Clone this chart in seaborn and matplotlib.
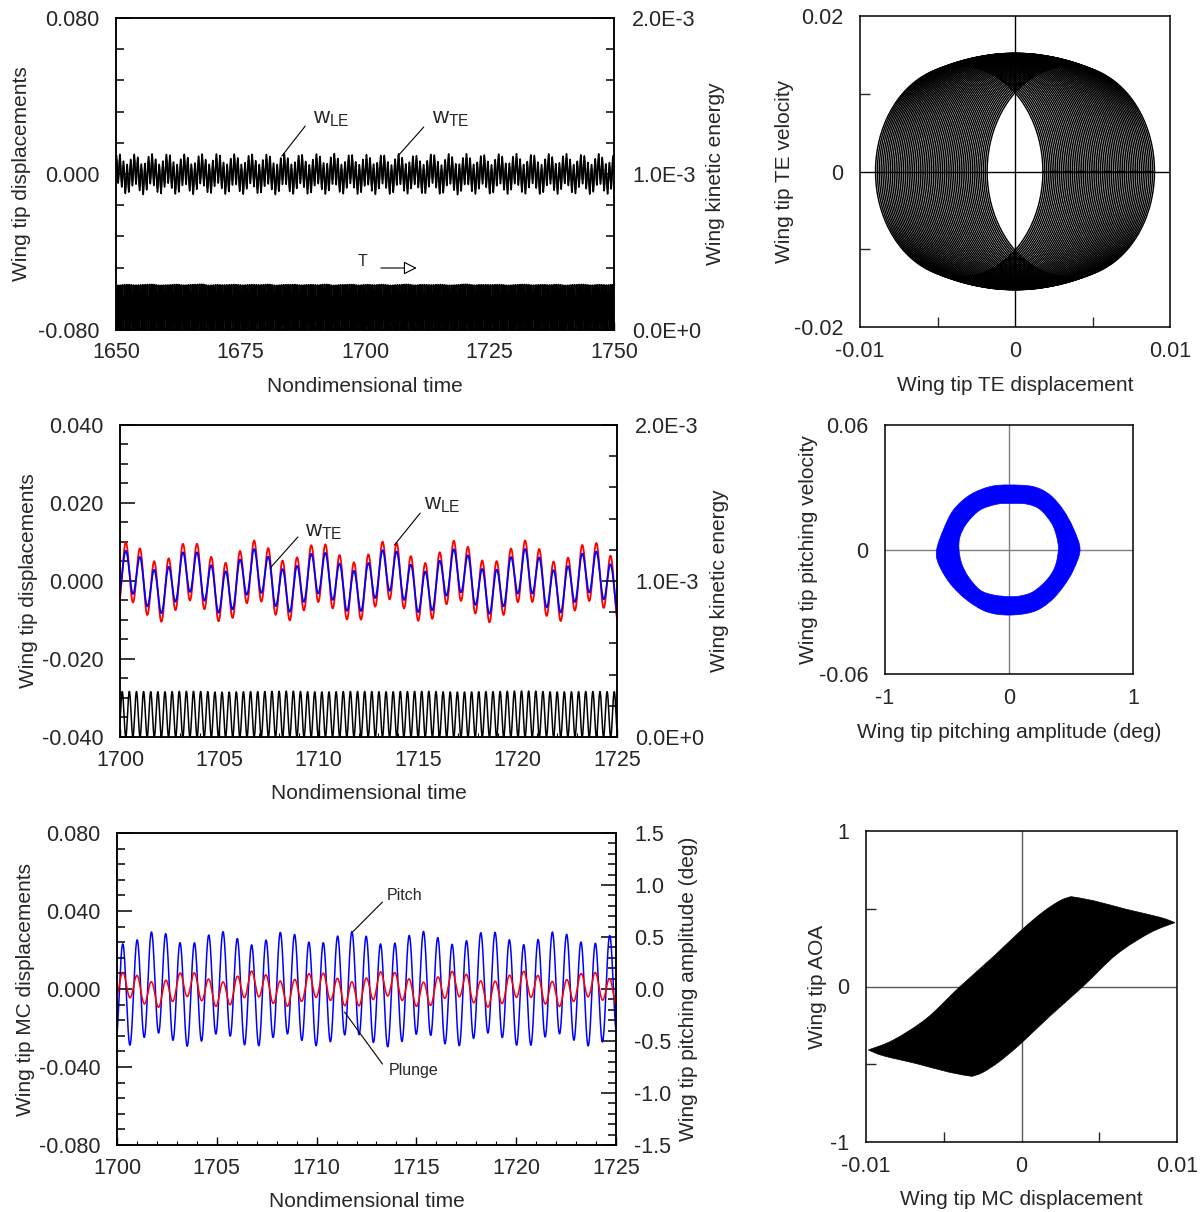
import numpy as np
import pandas as pd
import seaborn as sns
import matplotlib
matplotlib.use("Agg")
import matplotlib.pyplot as plt
from matplotlib.path import Path
from matplotlib.patches import PathPatch
from matplotlib.ticker import MultipleLocator

sns.set_style("white")
plt.rcParams["font.family"] = ["Liberation Sans", "DejaVu Sans"]
plt.rcParams["mathtext.fontset"] = "custom"
plt.rcParams["mathtext.rm"] = "Liberation Sans"
plt.rcParams["mathtext.it"] = "Liberation Sans:italic"
plt.rcParams["axes.unicode_minus"] = False

RED, BLUE, BLACK = "#ff0000", "#0000ff", "#000000"

# ---------------- wing-tip time histories ----------------
FAST_PERIOD = 0.7174      # period of the flutter oscillation
FAST_CREST_T = 1700.29    # time of one displacement crest

# extrema of the slow drift of the tip displacement (time, value)
w_slow_t = [1647.1, 1648.8, 1650.5, 1652.1, 1653.8, 1655.4, 1657.1, 1658.8,
            1660.4, 1662.1, 1663.8, 1665.4, 1667.1, 1668.8, 1670.4, 1672.1,
            1673.8, 1675.4, 1677.1, 1678.7, 1680.4, 1682.1, 1683.8, 1685.4,
            1687.1, 1688.7, 1690.4, 1692.1, 1693.8, 1695.4, 1697.1, 1698.7,
            1700.4, 1702.0, 1703.5, 1705.2, 1706.8, 1708.4, 1710.0, 1711.8,
            1713.5, 1715.3, 1716.9, 1718.6, 1720.4, 1722.0, 1723.7, 1725.3,
            1727.0, 1728.6, 1730.3, 1732.0, 1733.6, 1735.3, 1737.0, 1738.6,
            1740.3, 1742.0, 1743.6, 1745.3, 1747.0, 1748.6, 1750.3, 1752.0]
w_slow_v = [0.0027, -0.0028, 0.0029, -0.0027, 0.0026, -0.0030, 0.0028, -0.0027,
            0.0029, -0.0028, 0.0026, -0.0029, 0.0028, -0.0026, 0.0030, -0.0028,
            0.0027, -0.0029, 0.0028, -0.0027, 0.0026, -0.0030, 0.0029, -0.0028,
            0.0027, -0.0029, 0.0028, -0.0027, 0.0029, -0.0028, 0.0027, -0.0029,
            0.0024, -0.0029, 0.0026, -0.0030, 0.0028, -0.0026, 0.0022, -0.0028,
            0.0029, -0.0030, 0.0028, -0.0030, 0.0028, -0.0028, 0.0025, -0.0029,
            0.0028, -0.0027, 0.0029, -0.0028, 0.0027, -0.0029, 0.0028, -0.0027,
            0.0029, -0.0028, 0.0026, -0.0029, 0.0028, -0.0027, 0.0028, -0.0028]
w_te_amp = 0.0076     # oscillation amplitude, trailing edge
w_le_amp = 0.0054     # oscillation amplitude, leading edge
# crest height of the wing kinetic energy at the same knots
ke_peak = [2.90e-4, 2.92e-4, 2.88e-4, 2.93e-4, 2.89e-4, 2.91e-4, 2.94e-4, 2.88e-4,
           2.90e-4, 2.93e-4, 2.89e-4, 2.92e-4, 2.95e-4, 2.88e-4, 2.91e-4, 2.90e-4,
           2.93e-4, 2.89e-4, 2.92e-4, 2.90e-4, 2.94e-4, 2.88e-4, 2.91e-4, 2.93e-4,
           2.89e-4, 2.92e-4, 2.90e-4, 2.94e-4, 2.88e-4, 2.91e-4, 2.93e-4, 2.89e-4,
           2.92e-4, 2.90e-4, 2.93e-4, 2.88e-4, 2.91e-4, 2.94e-4, 2.89e-4, 2.92e-4,
           2.90e-4, 2.93e-4, 2.88e-4, 2.91e-4, 2.95e-4, 2.89e-4, 2.92e-4, 2.90e-4,
           2.93e-4, 2.88e-4, 2.91e-4, 2.94e-4, 2.89e-4, 2.92e-4, 2.90e-4, 2.93e-4,
           2.88e-4, 2.91e-4, 2.94e-4, 2.89e-4, 2.92e-4, 2.90e-4, 2.93e-4, 2.90e-4]

# mid-chord plunge (left axis) and pitch in degrees (right axis)
mc_slow_t = [1697.1, 1698.7, 1700.4, 1702.0, 1703.5, 1705.2, 1706.8, 1708.4,
             1710.0, 1711.8, 1713.5, 1715.3, 1716.9, 1718.6, 1720.4, 1722.0,
             1723.7, 1725.3, 1727.0]
plunge_slow_v = [0.0025, -0.0027, 0.0022, -0.0030, 0.0025, -0.0028, 0.0028, -0.0025,
                 0.0021, -0.0027, 0.0028, -0.0029, 0.0027, -0.0029, 0.0027, -0.0027,
                 0.0024, -0.0028, 0.0027]
pitch_slow_v = [-0.060, 0.062, -0.057, 0.067, -0.060, 0.063, -0.066, 0.060,
                -0.055, 0.062, -0.066, 0.064, -0.062, 0.066, -0.064, 0.062,
                -0.058, 0.064, -0.062]
plunge_amp = 0.0064
pitch_amp = 0.49

# TE phase portrait: centre and velocity half-height of each loop
te_loop_centre = [-0.00360, -0.00348, -0.00336, -0.00324, -0.00312, -0.00300, -0.00288,
                  -0.00276, -0.00264, -0.00252, -0.00240, -0.00228, -0.00216, -0.00204,
                  -0.00192, -0.00180, -0.00168, -0.00156, -0.00144, -0.00132, -0.00120,
                  -0.00108, -0.00096, -0.00084, -0.00072, -0.00060, -0.00048, -0.00036,
                  -0.00024, -0.00012, 0.00000, 0.00012, 0.00024, 0.00036, 0.00048,
                  0.00060, 0.00072, 0.00084, 0.00096, 0.00108, 0.00120, 0.00132,
                  0.00144, 0.00156, 0.00168, 0.00180, 0.00192, 0.00204, 0.00216,
                  0.00228, 0.00240, 0.00252, 0.00264, 0.00276, 0.00288, 0.00300,
                  0.00312, 0.00324, 0.00336, 0.00348, 0.00360]
te_loop_height = [0.01360, 0.01371, 0.01381, 0.01390, 0.01400, 0.01409, 0.01418,
                  0.01426, 0.01434, 0.01442, 0.01449, 0.01456, 0.01462, 0.01469,
                  0.01475, 0.01480, 0.01485, 0.01490, 0.01494, 0.01498, 0.01502,
                  0.01506, 0.01509, 0.01511, 0.01514, 0.01516, 0.01517, 0.01518,
                  0.01519, 0.01520, 0.01520, 0.01520, 0.01519, 0.01518, 0.01517,
                  0.01516, 0.01514, 0.01511, 0.01509, 0.01506, 0.01502, 0.01498,
                  0.01494, 0.01490, 0.01485, 0.01480, 0.01475, 0.01469, 0.01462,
                  0.01456, 0.01449, 0.01442, 0.01434, 0.01426, 0.01418, 0.01409,
                  0.01400, 0.01390, 0.01381, 0.01371, 0.01360]
te_half_width = 0.0054

# pitch phase-plane ring: outer and inner edges (deg, deg/time)
ring_outer_x = [0.573, 0.519, 0.438, 0.331, 0.196, 0.0, -0.153, -0.315, -0.449, -0.530,
                -0.583, -0.570, -0.476, -0.341, -0.180, 0.0, 0.196, 0.331, 0.438, 0.519]
ring_outer_y = [0.0, 0.0102, 0.0190, 0.0263, 0.0303, 0.0311, 0.0303, 0.0263, 0.0190, 0.0094,
                0.0, -0.0067, -0.0163, -0.0243, -0.0300, -0.0316, -0.0300, -0.0251, -0.0179, -0.0099]
ring_inner_x = [0.398, 0.384, 0.344, 0.250, 0.142, 0.0, -0.099, -0.234, -0.341, -0.395,
                -0.403, -0.382, -0.328, -0.234, -0.126, 0.0, 0.089, 0.196, 0.304, 0.371]
ring_inner_y = [0.0, 0.0062, 0.0126, 0.0193, 0.0219, 0.0222, 0.0218, 0.0190, 0.0126, 0.0062,
                0.0, -0.0067, -0.0131, -0.0195, -0.0219, -0.0227, -0.0224, -0.0203, -0.0147, -0.0083]

# AOA vs MC displacement: upper and lower edges of the swept band (tip to tip)
aoa_upper_x = [-0.00985, -0.00824, -0.00610, -0.00396, -0.00181, 0.0, 0.00140,
               0.00248, 0.00318, 0.00462, 0.00676, 0.00891, 0.00987]
aoa_upper_y = [-0.408, -0.344, -0.205, -0.001, 0.192, 0.363, 0.481,
               0.552, 0.578, 0.552, 0.496, 0.445, 0.411]
aoa_lower_x = [-0.00985, -0.00891, -0.00676, -0.00462, -0.00318, -0.00248, -0.00140,
               0.0, 0.00181, 0.00396, 0.00610, 0.00824, 0.00987]
aoa_lower_y = [-0.408, -0.445, -0.496, -0.552, -0.578, -0.552, -0.481,
               -0.363, -0.192, 0.001, 0.205, 0.344, 0.411]


def drift(t, knots_t, knots_v):
    """Smooth half-cosine passage between successive extrema."""
    kt = np.asarray(knots_t)
    kv = np.asarray(knots_v)
    i = np.clip(np.searchsorted(kt, t, side="right") - 1, 0, len(kt) - 2)
    s = (t - kt[i]) / (kt[i + 1] - kt[i])
    return kv[i] + (kv[i + 1] - kv[i]) * (1 - np.cos(np.pi * s)) / 2


def phase(t):
    return 2 * np.pi * (t - FAST_CREST_T) / FAST_PERIOD


def smooth_segments(xs, ys, closed=False):
    """Cubic Bezier pieces passing through the given outline points."""
    P = np.column_stack([xs, ys]).astype(float)
    n = len(P)
    verts, codes = [], []
    segs = n if closed else n - 1
    for i in range(segs):
        p1, p2 = P[i], P[(i + 1) % n]
        p0 = P[i - 1] if (closed or i > 0) else p1
        p3 = P[(i + 2) % n] if (closed or i + 2 < n) else p2
        verts += [p1 + (p2 - p0) / 6, p2 - (p3 - p1) / 6, p2]
        codes += [Path.CURVE4] * 3
    return P[0], verts, codes


def closed_path(pieces):
    verts, codes = [], []
    for k, (xs, ys, closed) in enumerate(pieces):
        start, v, c = smooth_segments(xs, ys, closed)
        if k == 0:
            verts.append(start)
            codes.append(Path.MOVETO)
        verts += v
        codes += c
    verts.append(verts[0])
    codes.append(Path.CLOSEPOLY)
    return Path(np.array(verts), codes)


# ---------------- figure ----------------
W, H = 1202, 1212
fig = plt.figure(figsize=(W / 100, H / 100), dpi=100)


def axes_px(left, top, right, bottom):
    return fig.add_axes([left / W, 1 - bottom / H, (right - left) / W, (bottom - top) / H])


FS_TICK = 15.5
FS_LABEL = 15
MAJ, MIN = 11, 6


def frame(ax, lw=1.1):
    for s in ax.spines.values():
        s.set_visible(True)
        s.set_color("black")
        s.set_linewidth(lw)


def time_axes(ax, ax2, xlim, xmaj, xmin):
    ax.set_xlim(*xlim)
    ax.xaxis.set_major_locator(MultipleLocator(xmaj))
    ax.xaxis.set_minor_locator(MultipleLocator(xmin))
    ax.tick_params(axis="both", which="both", direction="in", labelsize=FS_TICK,
                   left=True, bottom=True, right=False, top=False, color="black")
    ax.tick_params(axis="y", which="major", length=MAJ, width=1.1, pad=12)
    ax.tick_params(axis="y", which="minor", length=MIN, width=1.1)
    ax.tick_params(axis="x", which="major", length=6, width=1.0, pad=9)
    ax.tick_params(axis="x", which="minor", length=3, width=0.8)
    ax2.tick_params(axis="y", which="both", direction="in", labelsize=FS_TICK,
                    left=False, right=True, color="black")
    ax2.tick_params(axis="y", which="major", length=MAJ, width=1.1, pad=13)
    ax2.tick_params(axis="y", which="minor", length=MIN, width=1.1)
    ax.set_xlabel("Nondimensional time", fontsize=FS_LABEL)
    ax.xaxis.set_label_coords(0.5, -0.15)
    frame(ax)
    frame(ax2)


def ke_axis(ax2):
    ax2.set_ylim(0, 2e-3)
    ax2.set_yticks([0, 1e-3, 2e-3], ["0.0E+0", "1.0E-3", "2.0E-3"])
    ax2.yaxis.set_minor_locator(MultipleLocator(2e-4))
    ax2.set_ylabel("Wing kinetic energy", fontsize=FS_LABEL)


def wlabel(ax, x, y, sub, lx, ly, px, py):
    ax.text(x, y, r"$\mathregular{w_{%s}}$" % sub, fontsize=16, ha="left", va="center")
    ax.plot([lx, px], [ly, py], color="black", lw=0.8)


# ---- panel A: 1650-1750 ----
axA = axes_px(116, 18, 614, 330)
axA2 = axA.twinx()
tA = np.linspace(1650, 1750, 10001)
slowA = drift(tA, w_slow_t, w_slow_v)
sns.lineplot(x=tA, y=slowA + w_te_amp * np.cos(phase(tA)), ax=axA, color=BLACK,
             lw=1.1, estimator=None, sort=False)
sns.lineplot(x=tA, y=slowA + w_le_amp * np.cos(phase(tA)), ax=axA, color=BLACK,
             lw=1.1, estimator=None, sort=False)
keA = drift(tA, w_slow_t, ke_peak) * np.sin(phase(tA)) ** 2
sns.lineplot(x=tA, y=keA, ax=axA2, color=BLACK, lw=0.9, estimator=None, sort=False)
axA.set_ylim(-0.08, 0.08)
axA.set_yticks([-0.08, 0.0, 0.08], ["-0.080", "0.000", "0.080"])
axA.yaxis.set_minor_locator(MultipleLocator(0.016))
axA.set_ylabel("Wing tip displacements", fontsize=FS_LABEL)
ke_axis(axA2)
time_axes(axA, axA2, (1650, 1750), 25, 5)
wlabel(axA, 1689.6, 0.0287, "LE", 1688.0, 0.0246, 1683.3, 0.0092)
wlabel(axA, 1713.5, 0.0287, "TE", 1711.8, 0.0241, 1706.6, 0.0092)
axA.text(1698.6, -0.0451, "T", fontsize=11.5, ha="left", va="center")
axA.annotate("", xy=(1710.4, -0.0482), xytext=(1703.2, -0.0482),
             arrowprops=dict(arrowstyle="-|>", fc="white", ec="black", lw=0.8,
                             mutation_scale=20, shrinkA=0, shrinkB=0))

# ---- panel C: 1700-1725 ----
axC = axes_px(120, 425, 617, 737)
axC2 = axC.twinx()
tC = np.linspace(1700, 1725, 5001)
slowC = drift(tC, w_slow_t, w_slow_v)
sns.lineplot(x=tC, y=slowC + w_te_amp * np.cos(phase(tC)), ax=axC, color=RED,
             lw=1.3, estimator=None, sort=False)
sns.lineplot(x=tC, y=slowC + w_le_amp * np.cos(phase(tC)), ax=axC, color=BLUE,
             lw=1.3, estimator=None, sort=False)
keC = drift(tC, w_slow_t, ke_peak) * np.sin(phase(tC)) ** 2
sns.lineplot(x=tC, y=keC, ax=axC2, color=BLACK, lw=1.1, estimator=None, sort=False)
axC.set_ylim(-0.04, 0.04)
axC.set_yticks([-0.04, -0.02, 0.0, 0.02, 0.04],
               ["-0.040", "-0.020", "0.000", "0.020", "0.040"])
axC.yaxis.set_minor_locator(MultipleLocator(0.005))
axC.set_ylabel("Wing tip displacements", fontsize=FS_LABEL)
ke_axis(axC2)
time_axes(axC, axC2, (1700, 1725), 5, 1)
wlabel(axC, 1709.3, 0.0128, "TE", 1708.95, 0.0113, 1707.55, 0.0033)
wlabel(axC, 1715.3, 0.0195, "LE", 1715.1, 0.0174, 1713.8, 0.0092)

# ---- panel E: plunge and pitch ----
axE = axes_px(117, 833, 616, 1145)
axE2 = axE.twinx()
tE = np.linspace(1700, 1725, 5001)
pitch = drift(tE, mc_slow_t, pitch_slow_v) + pitch_amp * np.cos(phase(tE))
plunge = drift(tE, mc_slow_t, plunge_slow_v) + plunge_amp * np.cos(phase(tE))
sns.lineplot(x=tE, y=pitch, ax=axE2, color=BLUE, lw=1.1, estimator=None, sort=False)
sns.lineplot(x=tE, y=plunge, ax=axE, color=RED, lw=1.1, estimator=None, sort=False)
axE.set_zorder(axE2.get_zorder() + 1)
axE.patch.set_visible(False)
axE.set_ylim(-0.08, 0.08)
axE.set_yticks([-0.08, -0.04, 0.0, 0.04, 0.08],
               ["-0.080", "-0.040", "0.000", "0.040", "0.080"])
axE.yaxis.set_minor_locator(MultipleLocator(0.008))
axE.set_ylabel("Wing tip MC displacements", fontsize=FS_LABEL)
axE2.set_ylim(-1.5, 1.5)
axE2.set_yticks([-1.5, -1.0, -0.5, 0.0, 0.5, 1.0, 1.5],
                ["-1.5", "-1.0", "-0.5", "0.0", "0.5", "1.0", "1.5"])
axE2.yaxis.set_minor_locator(MultipleLocator(0.1))
axE2.set_ylabel("Wing tip pitching amplitude (deg)", fontsize=FS_LABEL)
time_axes(axE, axE2, (1700, 1725), 5, 1)
axE.text(1713.5, 0.0482, "Pitch", fontsize=11.5, ha="left", va="center")
axE.plot([1713.3, 1711.8], [0.0446, 0.0292], color="black", lw=0.8)
axE.text(1713.6, -0.0420, "Plunge", fontsize=11.5, ha="left", va="center")
axE.plot([1713.3, 1711.4], [-0.0385, -0.0118], color="black", lw=0.8)

# y-label placement for the time panels
axA.yaxis.set_label_coords(-0.171, 0.5)
axA2.yaxis.set_label_coords(1.185, 0.5)
axC.yaxis.set_label_coords(-0.165, 0.5)
axC2.yaxis.set_label_coords(1.187, 0.5)
axE.yaxis.set_label_coords(-0.164, 0.5)
axE2.yaxis.set_label_coords(1.126, 0.5)


def phase_axes(ax, xlim, ylim, xt, xl, yt, yl, xminor=None, yminor=None, cross="black"):
    ax.set_xlim(*xlim)
    ax.set_ylim(*ylim)
    ax.set_xticks(xt, xl)
    ax.set_yticks(yt, yl)
    if xminor is not None:
        ax.set_xticks(xminor, minor=True)
    if yminor is not None:
        ax.set_yticks(yminor, minor=True)
    ax.tick_params(axis="both", which="both", direction="in", labelsize=FS_TICK,
                   left=True, bottom=True, right=False, top=False)
    ax.tick_params(axis="y", which="major", length=0, pad=12)
    ax.tick_params(axis="x", which="major", length=0, pad=10)
    ax.tick_params(axis="both", which="minor", length=7, width=1.0)
    ax.axhline(0, color=cross, lw=1.0, zorder=0.5)
    ax.axvline(0, color=cross, lw=1.0, zorder=0.5)
    frame(ax)


# ---- panel B: TE phase portrait ----
axB = axes_px(860, 16, 1170, 327)
theta = np.linspace(0, 2 * np.pi, 181)
loops = pd.DataFrame({
    "loop": np.repeat(np.arange(len(te_loop_centre)), theta.size),
    "x": (np.asarray(te_loop_centre)[:, None] + te_half_width * np.cos(theta)[None, :]).ravel(),
    "y": (np.asarray(te_loop_height)[:, None] * np.sin(theta)[None, :]).ravel(),
})
sns.lineplot(data=loops, x="x", y="y", units="loop", estimator=None, sort=False,
             ax=axB, color=BLACK, lw=1.05)
phase_axes(axB, (-0.01, 0.01), (-0.02, 0.02),
           [-0.01, 0, 0.01], ["-0.01", "0", "0.01"],
           [-0.02, 0, 0.02], ["-0.02", "0", "0.02"],
           xminor=[-0.005, 0.005], yminor=[-0.01, 0.01])
axB.set_xlabel("Wing tip TE displacement", fontsize=FS_LABEL)
axB.set_ylabel("Wing tip TE velocity", fontsize=FS_LABEL)
axB.xaxis.set_label_coords(0.5, -0.158)
axB.yaxis.set_label_coords(-0.213, 0.5)

# ---- panel D: pitch phase ring ----
axD = axes_px(885, 425, 1133, 674)
outer = closed_path([(ring_outer_x, ring_outer_y, True)])
inner = closed_path([(ring_inner_x[::-1], ring_inner_y[::-1], True)])
ring = Path.make_compound_path(outer, inner)
axD.add_patch(PathPatch(ring, facecolor=BLUE, edgecolor=BLUE, lw=0.5, zorder=2))
phase_axes(axD, (-1, 1), (-0.06, 0.06),
           [-1, 0, 1], ["-1", "0", "1"],
           [-0.06, 0, 0.06], ["-0.06", "0", "0.06"], cross="#7f7f7f")
axD.set_xlabel("Wing tip pitching amplitude (deg)", fontsize=FS_LABEL)
axD.set_ylabel("Wing tip pitching velocity", fontsize=FS_LABEL)
axD.xaxis.set_label_coords(0.5, -0.197)
axD.yaxis.set_label_coords(-0.27, 0.5)

# ---- panel F: AOA vs MC displacement ----
axF = axes_px(866, 831, 1177, 1142)
ku = int(np.argmax(aoa_upper_y))
kl = int(np.argmin(aoa_lower_y))
band = closed_path([
    (aoa_upper_x[:ku + 1], aoa_upper_y[:ku + 1], False),
    (aoa_upper_x[ku:], aoa_upper_y[ku:], False),
    (aoa_lower_x[::-1][:len(aoa_lower_x) - kl], aoa_lower_y[::-1][:len(aoa_lower_y) - kl], False),
    (aoa_lower_x[kl::-1], aoa_lower_y[kl::-1], False),
])
axF.add_patch(PathPatch(band, facecolor=BLACK, edgecolor=BLACK, lw=0.5, zorder=2))
phase_axes(axF, (-0.01, 0.01), (-1, 1),
           [-0.01, 0, 0.01], ["-0.01", "0", "0.01"],
           [-1, 0, 1], ["-1", "0", "1"],
           xminor=[-0.005, 0.005], yminor=[-0.5, 0.5], cross="#5a5a5a")
axF.set_xlabel("Wing tip MC displacement", fontsize=FS_LABEL)
axF.set_ylabel("Wing tip AOA", fontsize=FS_LABEL)
axF.xaxis.set_label_coords(0.5, -0.154)
axF.yaxis.set_label_coords(-0.125, 0.5)

fig.savefig("out.png", dpi=100)
